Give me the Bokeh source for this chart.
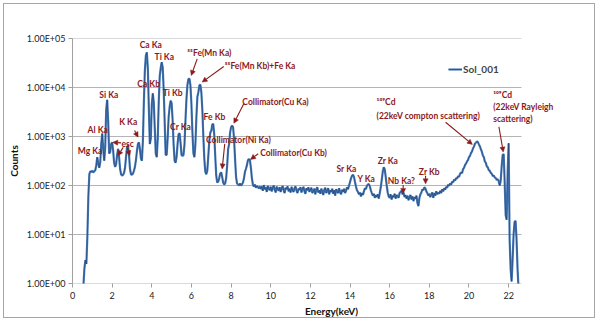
from bokeh.plotting import figure
from bokeh.models import (FixedTicker, Label, Arrow, NormalHead, Legend, LegendItem,
                          ColumnDataSource)
from bokeh.embed import file_html
from bokeh.resources import INLINE

# ---------------- data ----------------
energy_low = [
    0.55, 0.60, 0.65, 0.70, 0.75, 0.80, 0.85, 0.90, 0.95,
    1.00, 1.05, 1.10, 1.15, 1.20, 1.25, 1.30, 1.35, 1.40, 1.45, 1.50, 1.55, 1.60, 1.65, 1.70, 1.75, 1.80, 1.85, 1.90, 1.95,
    2.00, 2.05, 2.10, 2.15, 2.20, 2.25, 2.30, 2.35, 2.40, 2.45, 2.50, 2.55, 2.60, 2.65, 2.70, 2.75, 2.80, 2.85, 2.90, 2.95,
    3.00, 3.05, 3.10, 3.15, 3.20, 3.25, 3.30, 3.35, 3.40, 3.45, 3.50, 3.55, 3.60, 3.65, 3.70, 3.75, 3.80, 3.85, 3.90, 3.95,
    4.00, 4.05, 4.10, 4.15, 4.20, 4.25, 4.30, 4.35, 4.40, 4.45, 4.50, 4.55, 4.60, 4.65, 4.70, 4.75, 4.80, 4.85, 4.90, 4.95,
    5.00, 5.05, 5.10, 5.15, 5.20, 5.25, 5.30, 5.35, 5.40, 5.45, 5.50, 5.55, 5.60, 5.65, 5.70, 5.75, 5.80, 5.85, 5.90, 5.95,
    6.00, 6.05, 6.10, 6.15, 6.20, 6.25, 6.30, 6.35, 6.40, 6.45, 6.50, 6.55, 6.60, 6.65, 6.70, 6.75, 6.80, 6.85, 6.90, 6.95,
    7.00, 7.05, 7.10, 7.15, 7.20, 7.25, 7.30, 7.35, 7.40, 7.45, 7.50, 7.55, 7.60, 7.65, 7.70, 7.75, 7.80, 7.85, 7.90, 7.95,
    8.00, 8.05, 8.10, 8.15, 8.20, 8.25, 8.30, 8.35, 8.40, 8.45, 8.50, 8.55, 8.60, 8.65, 8.70, 8.75, 8.80, 8.85, 8.90, 8.95,
    9.00, 9.05, 9.10, 9.15, 9.20, 9.25, 9.30, 9.35, 9.40, 9.45, 9.50,
]
counts_low = [
    0.9, 2.0, 3.0, 2.5, 9, 60, 170, 195, 190,
    200, 185, 195, 205, 260, 380, 280, 230, 300, 700, 1150, 550, 320, 600, 3500, 5600, 2000, 450, 480, 700,
    760, 520, 290, 240, 270, 420, 560, 380, 220, 170, 160, 165, 180, 230, 380, 600, 660, 420, 220, 170,
    165, 175, 200, 240, 330, 500, 700, 760, 560, 360, 320, 800, 5000, 22000, 45000, 52000, 25000, 4000, 700, 900,
    4500, 7600, 5000, 1500, 450, 380, 900, 5000, 17000, 25000, 33000, 26000, 9000, 2000, 420, 420, 900, 2500, 4000, 5400,
    4800, 2200, 700, 320, 290, 380, 700, 1100, 1170, 750, 420, 400, 420, 700, 2200, 6000, 11500, 15000, 15000, 11000,
    4500, 1200, 450, 380, 700, 2500, 6500, 8000, 11000, 11500, 8000, 3500, 1000, 350, 190, 170, 200, 400, 800, 1200,
    1300, 1750, 1820, 1100, 400, 160, 115, 120, 140, 175, 186, 150, 115, 105, 110, 140, 250, 550, 700, 1200,
    1550, 1660, 1550, 900, 350, 150, 110, 105, 100, 110, 100, 105, 115, 140, 190, 220, 260, 330, 345, 330,
    230, 140, 105, 95, 105, 90, 98, 92, 88, 95, 85,
]

energy_mid = [
    9.55, 9.60, 9.65, 9.70, 9.75, 9.80, 9.85, 9.90, 9.95, 10.00,
    10.05, 10.10, 10.15, 10.20, 10.25, 10.30, 10.35, 10.40, 10.45, 10.50,
    10.55, 10.60, 10.65, 10.70, 10.75, 10.80, 10.85, 10.90, 10.95, 11.00,
    11.05, 11.10, 11.15, 11.20, 11.25, 11.30, 11.35, 11.40, 11.45, 11.50,
    11.55, 11.60, 11.65, 11.70, 11.75, 11.80, 11.85, 11.90, 11.95, 12.00,
    12.05, 12.10, 12.15, 12.20, 12.25, 12.30, 12.35, 12.40, 12.45, 12.50,
    12.55, 12.60, 12.65, 12.70, 12.75, 12.80, 12.85, 12.90, 12.95, 13.00,
    13.05, 13.10, 13.15, 13.20, 13.25, 13.30, 13.35, 13.40, 13.45, 13.50,
    13.55, 13.60, 13.65, 13.70, 13.75, 13.80, 13.85, 13.90, 13.95, 14.00,
    14.05, 14.10, 14.15, 14.20, 14.25, 14.30, 14.35, 14.40, 14.45, 14.50,
    14.55, 14.60, 14.65, 14.70, 14.75, 14.80, 14.85, 14.90, 14.95, 15.00,
    15.05, 15.10, 15.15, 15.20, 15.25, 15.30, 15.35, 15.40, 15.45, 15.50,
    15.55, 15.60, 15.65, 15.70, 15.75, 15.80, 15.85, 15.90, 15.95, 16.00,
    16.05, 16.10, 16.15, 16.20, 16.25, 16.30, 16.35, 16.40, 16.45, 16.50,
    16.55, 16.60, 16.65, 16.70, 16.75, 16.80, 16.85, 16.90, 16.95, 17.00,
    17.05, 17.10, 17.15, 17.20, 17.25, 17.30, 17.35, 17.40, 17.45, 17.50,
    17.55, 17.60, 17.65, 17.70, 17.75, 17.80, 17.85, 17.90, 17.95, 18.00,
    18.05, 18.10, 18.15, 18.20, 18.25, 18.30, 18.35, 18.40, 18.45, 18.50,
    18.55, 18.60, 18.65, 18.70, 18.75, 18.80, 18.85, 18.90, 18.95, 19.00,
    19.05, 19.10, 19.15, 19.20, 19.25, 19.30, 19.35, 19.40, 19.45, 19.50,
]
counts_mid = [
    96, 78, 102, 84, 92, 74, 98, 86, 80, 94,
    76, 90, 100, 82, 72, 95, 85, 78, 92, 74,
    88, 98, 80, 70, 90, 84, 96, 76, 86, 72,
    94, 80, 74, 88, 96, 78, 70, 86, 82, 92,
    72, 84, 94, 76, 68, 88, 80, 92, 74, 82,
    90, 70, 78, 86, 66, 84, 92, 72, 80, 68,
    86, 76, 64, 82, 90, 70, 78, 88, 66, 80,
    74, 86, 68, 80, 62, 84, 76, 70, 88, 72,
    66, 82, 74, 86, 70, 78, 92, 84, 100, 118,
    140, 158, 165, 150, 118, 95, 80, 74, 66, 72,
    60, 70, 64, 76, 88, 84, 98, 105, 107, 96,
    80, 70, 62, 68, 56, 64, 58, 66, 54, 70,
    92, 130, 190, 235, 215, 150, 100, 72, 60, 56,
    66, 52, 62, 58, 68, 54, 64, 60, 56, 70,
    74, 78, 66, 72, 58, 64, 54, 62, 50, 58,
    64, 52, 60, 48, 58, 54, 62, 44, 38, 56,
    66, 72, 84, 80, 92, 88, 76, 70, 62, 68,
    58, 66, 72, 56, 70, 62, 76, 66, 72, 68,
    78, 70, 84, 76, 88, 82, 94, 90, 104, 98,
    110, 104, 120, 116, 132, 126, 142, 138, 155, 150,
]

energy_high = [
    19.55, 19.60, 19.65, 19.70, 19.75, 19.80, 19.85, 19.90, 19.95,
    20.00, 20.05, 20.10, 20.15, 20.20, 20.25, 20.30, 20.35, 20.40, 20.45,
    20.50, 20.55, 20.60, 20.65, 20.70, 20.75, 20.80, 20.85, 20.90, 20.95,
    21.00, 21.05, 21.10, 21.15, 21.20, 21.25, 21.30, 21.35, 21.40, 21.45,
    21.50, 21.55, 21.60, 21.65, 21.70, 21.75, 21.80, 21.85, 21.90, 21.95,
    22.00, 22.05, 22.10, 22.15, 22.20, 22.25, 22.30, 22.35, 22.40, 22.45, 22.50,
]
counts_high = [
    172, 185, 178, 215, 230, 262, 280, 310, 330,
    380, 400, 460, 490, 570, 620, 710, 750, 790, 770,
    690, 630, 550, 490, 410, 380, 310, 290, 245, 235,
    205, 200, 180, 175, 155, 160, 145, 142, 130, 134,
    122, 100, 125, 250, 420, 440, 120, 25, 20, 180,
    730, 8, 2, 1.1, 3, 10, 18, 19, 8, 2, 0.8,
]

energy = energy_low + energy_mid + energy_high
counts = counts_low + counts_mid + counts_high

y_ticks = [1, 10, 100, 1000, 10000, 100000]
y_tick_labels = ["1.00E+00", "1.00E+01", "1.00E+02", "1.00E+03", "1.00E+04", "1.00E+05"]
x_ticks = [0, 2, 4, 6, 8, 10, 12, 14, 16, 18, 20, 22]
series_name = "Sol_001"

# (text, x keV, y counts, align)
peak_labels = [
    ("Mg Ka", 0.89, 500, "center"),
    ("Al Ka", 1.27, 1350, "center"),
    ("Si Ka", 1.83, 6900, "center"),
    ("esc", 2.78, 710, "center"),
    ("K Ka", 2.81, 1950, "center"),
    ("Ca Ka", 3.95, 73600, "center"),
    ("Ca Kb", 3.84, 11700, "center"),
    ("Ti Ka", 4.63, 42500, "center"),
    ("Ti Kb", 5.05, 7900, "center"),
    ("Cr Ka", 5.45, 1585, "center"),
    ("\u2075\u2075Fe(Mn Ka)", 5.79, 50000, "left"),
    ("\u2075\u2075Fe(Mn Kb)+Fe Ka", 7.68, 28000, "left"),
    ("Fe Kb", 7.16, 2450, "center"),
    ("Collimator(Cu Ka)", 10.24, 5150, "center"),
    ("Collimator(Ni Ka)", 8.37, 855, "center"),
    ("Collimator(Cu Kb)", 11.15, 457, "center"),
    ("Sr Ka", 13.82, 218, "center"),
    ("Y Ka", 14.82, 138, "center"),
    ("Zr Ka", 15.91, 323, "center"),
    ("Nb Ka?", 16.59, 126, "center"),
    ("Zr Kb", 18.0, 186, "center"),
    ("\u00b9\u2070\u2079Cd", 15.34, 5150, "left"),
    ("(22keV compton scattering)", 15.34, 2570, "left"),
    ("\u00b9\u2070\u2079Cd", 21.22, 6900, "left"),
    ("(22keV Rayleigh", 21.22, 4000, "left"),
    ("scattering)", 21.22, 2300, "left"),
]
# (x start, y start, x end, y end)
arrows = [
    (6.29, 38500, 5.99, 17600),
    (7.63, 26800, 6.54, 12900),
    (8.64, 4640, 8.14, 1860),
    (7.68, 708, 7.55, 218),
    (9.37, 444, 8.98, 340),
    (3.13, 1320, 3.31, 970),
    (2.45, 740, 2.03, 760),
    (2.56, 600, 2.29, 405),
    (2.76, 600, 2.89, 405),
    (18.82, 1950, 20.17, 690),
    (21.51, 1580, 21.73, 480),
    (16.68, 102, 16.68, 69),
    (17.81, 158, 17.81, 108),
]

# ---------------- figure ----------------
DARKRED = "#8b1a1a"
FONT = "Lato"
X_AXIS_END = 22.65   # end of the drawn gridlines (axis area of the original chart)

p = figure(width=592, height=315, output_backend="svg", toolbar_location=None,
           y_axis_type="log", x_range=(0, 26.13), y_range=(1, 1e5),
           min_border_left=68, min_border_right=6, min_border_top=34, min_border_bottom=36,
           styles={"margin-left": "3px", "margin-top": "3px", "border": "1px solid #a6a6a6"})
p.outline_line_color = None
p.background_fill_color = "white"
p.border_fill_color = "white"

# horizontal gridlines limited to the original plot area
p.xgrid.visible = False
p.ygrid.visible = False
p.segment(x0=[0] * len(y_ticks), x1=[X_AXIS_END] * len(y_ticks), y0=y_ticks, y1=y_ticks,
          line_color="#b4b4b4", line_width=1)

src = ColumnDataSource(dict(x=energy, y=counts))
r1 = p.line("x", "y", source=src, line_color="#4a7ebb", line_width=2.2)
r2 = p.line("x", "y", source=src, line_color="#1f3d6b", line_width=0.8, line_alpha=0.75)

p.yaxis.ticker = FixedTicker(ticks=y_ticks, minor_ticks=[])
p.yaxis.major_label_overrides = {t: s for t, s in zip(y_ticks, y_tick_labels)}
p.xaxis.ticker = FixedTicker(ticks=x_ticks, minor_ticks=[])

for ax in (p.xaxis[0], p.yaxis[0]):
    ax.axis_line_color = "#a0a0a0"
    ax.major_tick_line_color = "#a0a0a0"
    ax.minor_tick_line_color = None
    ax.major_tick_out = 4
    ax.major_tick_in = 0
    ax.major_label_text_font = FONT
    ax.major_label_text_font_size = "9px"
    ax.major_label_text_color = "#222222"
    ax.axis_label_text_font = FONT
    ax.axis_label_text_font_size = "10px"
    ax.axis_label_text_font_style = "bold"
    ax.axis_label_text_color = "#111111"
p.xaxis.axis_line_color = None   # the bottom gridline acts as the axis line

p.xaxis.axis_label = "Energy(keV)"
p.yaxis.axis_label = "Counts"
p.xaxis.major_label_standoff = 4
p.yaxis.major_label_standoff = 3
p.xaxis.axis_label_standoff = 3
p.yaxis.axis_label_standoff = 4

for txt, x, y, al in peak_labels:
    p.add_layout(Label(x=x, y=y, text=txt, text_align=al, text_baseline="middle",
                       text_font=FONT, text_font_size="8.5px", text_font_style="bold",
                       text_color=DARKRED))

for xs, ys, xe, ye in arrows:
    p.add_layout(Arrow(end=NormalHead(size=5, fill_color=DARKRED, line_color=DARKRED, line_width=0.5),
                       x_start=xs, y_start=ys, x_end=xe, y_end=ye,
                       line_color=DARKRED, line_width=1.1))

legend = Legend(items=[LegendItem(label=series_name, renderers=[r1, r2])],
                location=(376, 208), border_line_color=None, background_fill_alpha=0,
                padding=0, margin=0, spacing=0, glyph_width=14, glyph_height=10,
                label_standoff=1, label_text_font=FONT, label_text_font_size="10px",
                label_text_font_style="bold", label_height=10)
p.add_layout(legend)

open("out.html", "w").write(file_html(p, INLINE))
